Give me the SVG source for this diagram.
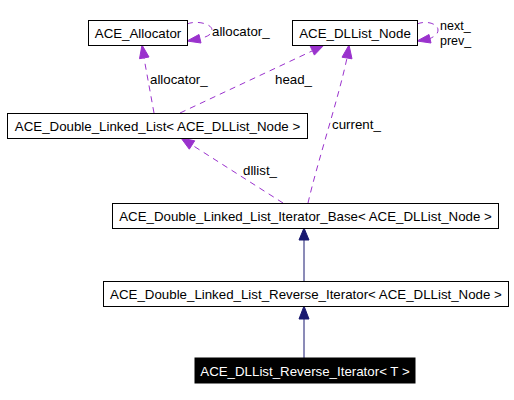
<svg xmlns="http://www.w3.org/2000/svg" width="514" height="400" viewBox="0 0 514 400">
<style>
text{font-family:"Liberation Sans",Arial,sans-serif;font-size:13.3px;fill:#000}
.box{fill:#fff;stroke:#000;stroke-width:1}
.nt{text-anchor:middle}
.dash{fill:none;stroke:#9a32cd;stroke-width:1;stroke-dasharray:6,5}
.dh{fill:#9a32cd;stroke:#9a32cd}
.inh{fill:none;stroke:#191970;stroke-width:1}
.ih{fill:#191970;stroke:#191970}
</style>
<rect width="514" height="400" fill="#fff"/>
<g id="connectors">
<path class="inh" d="M304,281 L304,240"/>
<polygon class="ih" points="304,228 299,240 309,240"/>
<path class="inh" d="M304,358 L304,319"/>
<polygon class="ih" points="304,306 299,319 309,319"/>
<path class="dash" d="M154,113 L144,58"/>
<polygon class="dh" points="142,45 149,57 139.5,58.7"/>
<text x="150" y="84">allocator_</text>
<path class="dash" d="M187,24 C197,20 212,24 212,30 C212,35 206,37 200,38.5"/>
<polygon class="dh" points="187,41 199,34.5 201,43"/>
<text x="212" y="36">allocator_</text>
<path class="dash" d="M180,113 L312,51"/>
<polygon class="dh" points="324,45 314.4,55.1 310.2,46.1"/>
<text x="275" y="84">head_</text>
<path class="dash" d="M308,203 C318,160 338,100 347,58"/>
<polygon class="dh" points="349,45 352,58.8 342,57.2"/>
<text x="332" y="129">current_</text>
<path class="dash" d="M283,203 L192,145"/>
<polygon class="dh" points="181,138 194.7,140.8 189.3,149.2"/>
<text x="243" y="175">dllist_</text>
<path class="dash" d="M417,24 C427,20 438,24 438,30 C438,35 433,37 430,38.5"/>
<polygon class="dh" points="417,41 429,34.5 431,43"/>
<text x="440" y="30" style="font-size:12.5px">next_</text>
<text x="440" y="45" style="font-size:12.5px">prev_</text>
</g>
<g id="node_allocator">
<rect class="box" x="88.5" y="20.5" width="99" height="25"/>
<text class="nt" x="138" y="38">ACE_Allocator</text>
</g>
<g id="node_dllist_node">
<rect class="box" x="292.5" y="20.5" width="125" height="25"/>
<text class="nt" x="355" y="38">ACE_DLList_Node</text>
</g>
<g id="node_double_linked_list">
<rect class="box" x="7.5" y="113.5" width="300" height="25"/>
<text class="nt" x="157.5" y="131">ACE_Double_Linked_List&lt; ACE_DLList_Node &gt;</text>
</g>
<g id="node_iterator_base">
<rect class="box" x="112.5" y="203.5" width="386" height="25"/>
<text class="nt" x="305.5" y="221">ACE_Double_Linked_List_Iterator_Base&lt; ACE_DLList_Node &gt;</text>
</g>
<g id="node_reverse_iterator">
<rect class="box" x="103.5" y="281.5" width="405" height="25"/>
<text class="nt" x="306" y="299">ACE_Double_Linked_List_Reverse_Iterator&lt; ACE_DLList_Node &gt;</text>
</g>
<g id="node_dllist_reverse_iterator">
<rect x="195" y="358" width="220" height="25" fill="#000" stroke="#000"/>
<text class="nt" x="305" y="376" style="fill:#fff">ACE_DLList_Reverse_Iterator&lt; T &gt;</text>
</g>
</svg>
